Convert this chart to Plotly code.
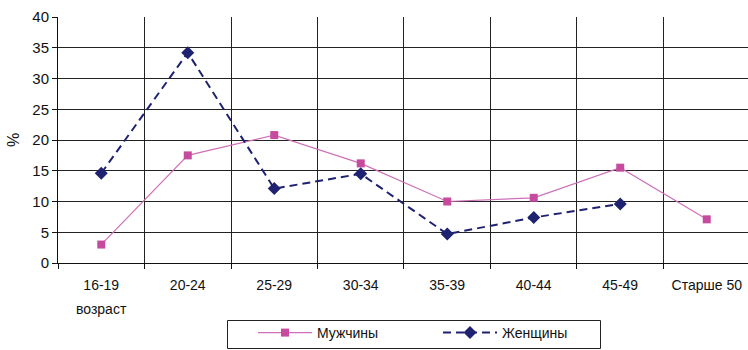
import plotly.graph_objects as go

# Age groups and shares (%) by sex
age_groups = ["16-19", "20-24", "25-29", "30-34", "35-39", "40-44", "45-49", "Старше 50"]
men = [3.0, 17.5, 20.8, 16.2, 10.0, 10.6, 15.5, 7.1]
women = [14.6, 34.2, 12.1, 14.5, 4.7, 7.4, 9.6, None]

FONT = "Liberation Sans, Arial, sans-serif"
MEN_COLOR = "#C64B9E"
MEN_LINE = "#D070B8"
WOMEN_COLOR = "#1E2270"

W, H = 748, 350
M_L, M_T, M_B = 58, 17, 87
PLOT_W, PLOT_H = W - M_L, H - M_T - M_B

fig = go.Figure()
fig.add_trace(go.Scatter(
    x=age_groups, y=men, name="Мужчины", mode="lines+markers",
    line=dict(color=MEN_LINE, width=1.2),
    marker=dict(symbol="square", size=8, color=MEN_COLOR),
))
fig.add_trace(go.Scatter(
    x=age_groups, y=women, name="Женщины", mode="lines+markers",
    line=dict(color=WOMEN_COLOR, width=2, dash="8px,5px"),
    marker=dict(symbol="diamond", size=10, color=WOMEN_COLOR),
    connectgaps=False,
))

fig.update_layout(
    width=W, height=H,
    margin=dict(l=M_L, r=0, t=M_T, b=M_B),
    paper_bgcolor="white", plot_bgcolor="white",
    font=dict(family=FONT, size=14, color="#111"),
    showlegend=True,
    legend=dict(
        orientation="h", xref="container", yref="container",
        x=227 / W, xanchor="left", y=1 / H, yanchor="bottom",
        borderwidth=0, bgcolor="rgba(0,0,0,0)",
        font=dict(family=FONT, size=14, color="#111"),
        title=dict(text="\u2003\u2003", side="left", font=dict(size=8)),
        itemwidth=54, entrywidth=116, entrywidthmode="pixels",
        tracegroupgap=0,
    ),
    xaxis=dict(
        type="category", categoryorder="array", categoryarray=age_groups,
        range=[-0.5, 7.477], tickson="boundaries",
        showgrid=True, gridcolor="#222", gridwidth=1,
        showline=True, linecolor="#111", linewidth=1,
        ticks="outside", ticklen=5, tickcolor="#111",
        ticklabelstandoff=9,
        tickfont=dict(family=FONT, size=14, color="#111"),
        zeroline=False, fixedrange=True,
    ),
    yaxis=dict(
        range=[0, 40], dtick=5, tick0=0,
        showgrid=True, gridcolor="#222", gridwidth=1,
        showline=True, linecolor="#111", linewidth=1,
        ticks="outside", ticklen=5, tickcolor="#111",
        tickfont=dict(family=FONT, size=15, color="#111"),
        title=dict(text="%", font=dict(family=FONT, size=16, color="#111"), standoff=8),
        zeroline=False, fixedrange=True,
    ),
)

# Frame around the legend (pixel box converted to paper units)
def px_x(px):
    return (px - M_L) / PLOT_W

def px_y(py):
    return (H - M_B - py) / PLOT_H

fig.add_shape(
    type="rect", xref="paper", yref="paper",
    x0=px_x(227.5), x1=px_x(600.5), y0=px_y(320.5), y1=px_y(348.5),
    line=dict(color="#222", width=1), fillcolor="white", layer="below",
)

# Axis caption under the first age group
fig.add_annotation(
    text="возраст", x=age_groups[0], xref="x", yref="paper", y=0, yshift=-36,
    yanchor="top", showarrow=False, font=dict(family=FONT, size=14, color="#111"),
)

fig.write_html("out.html")
